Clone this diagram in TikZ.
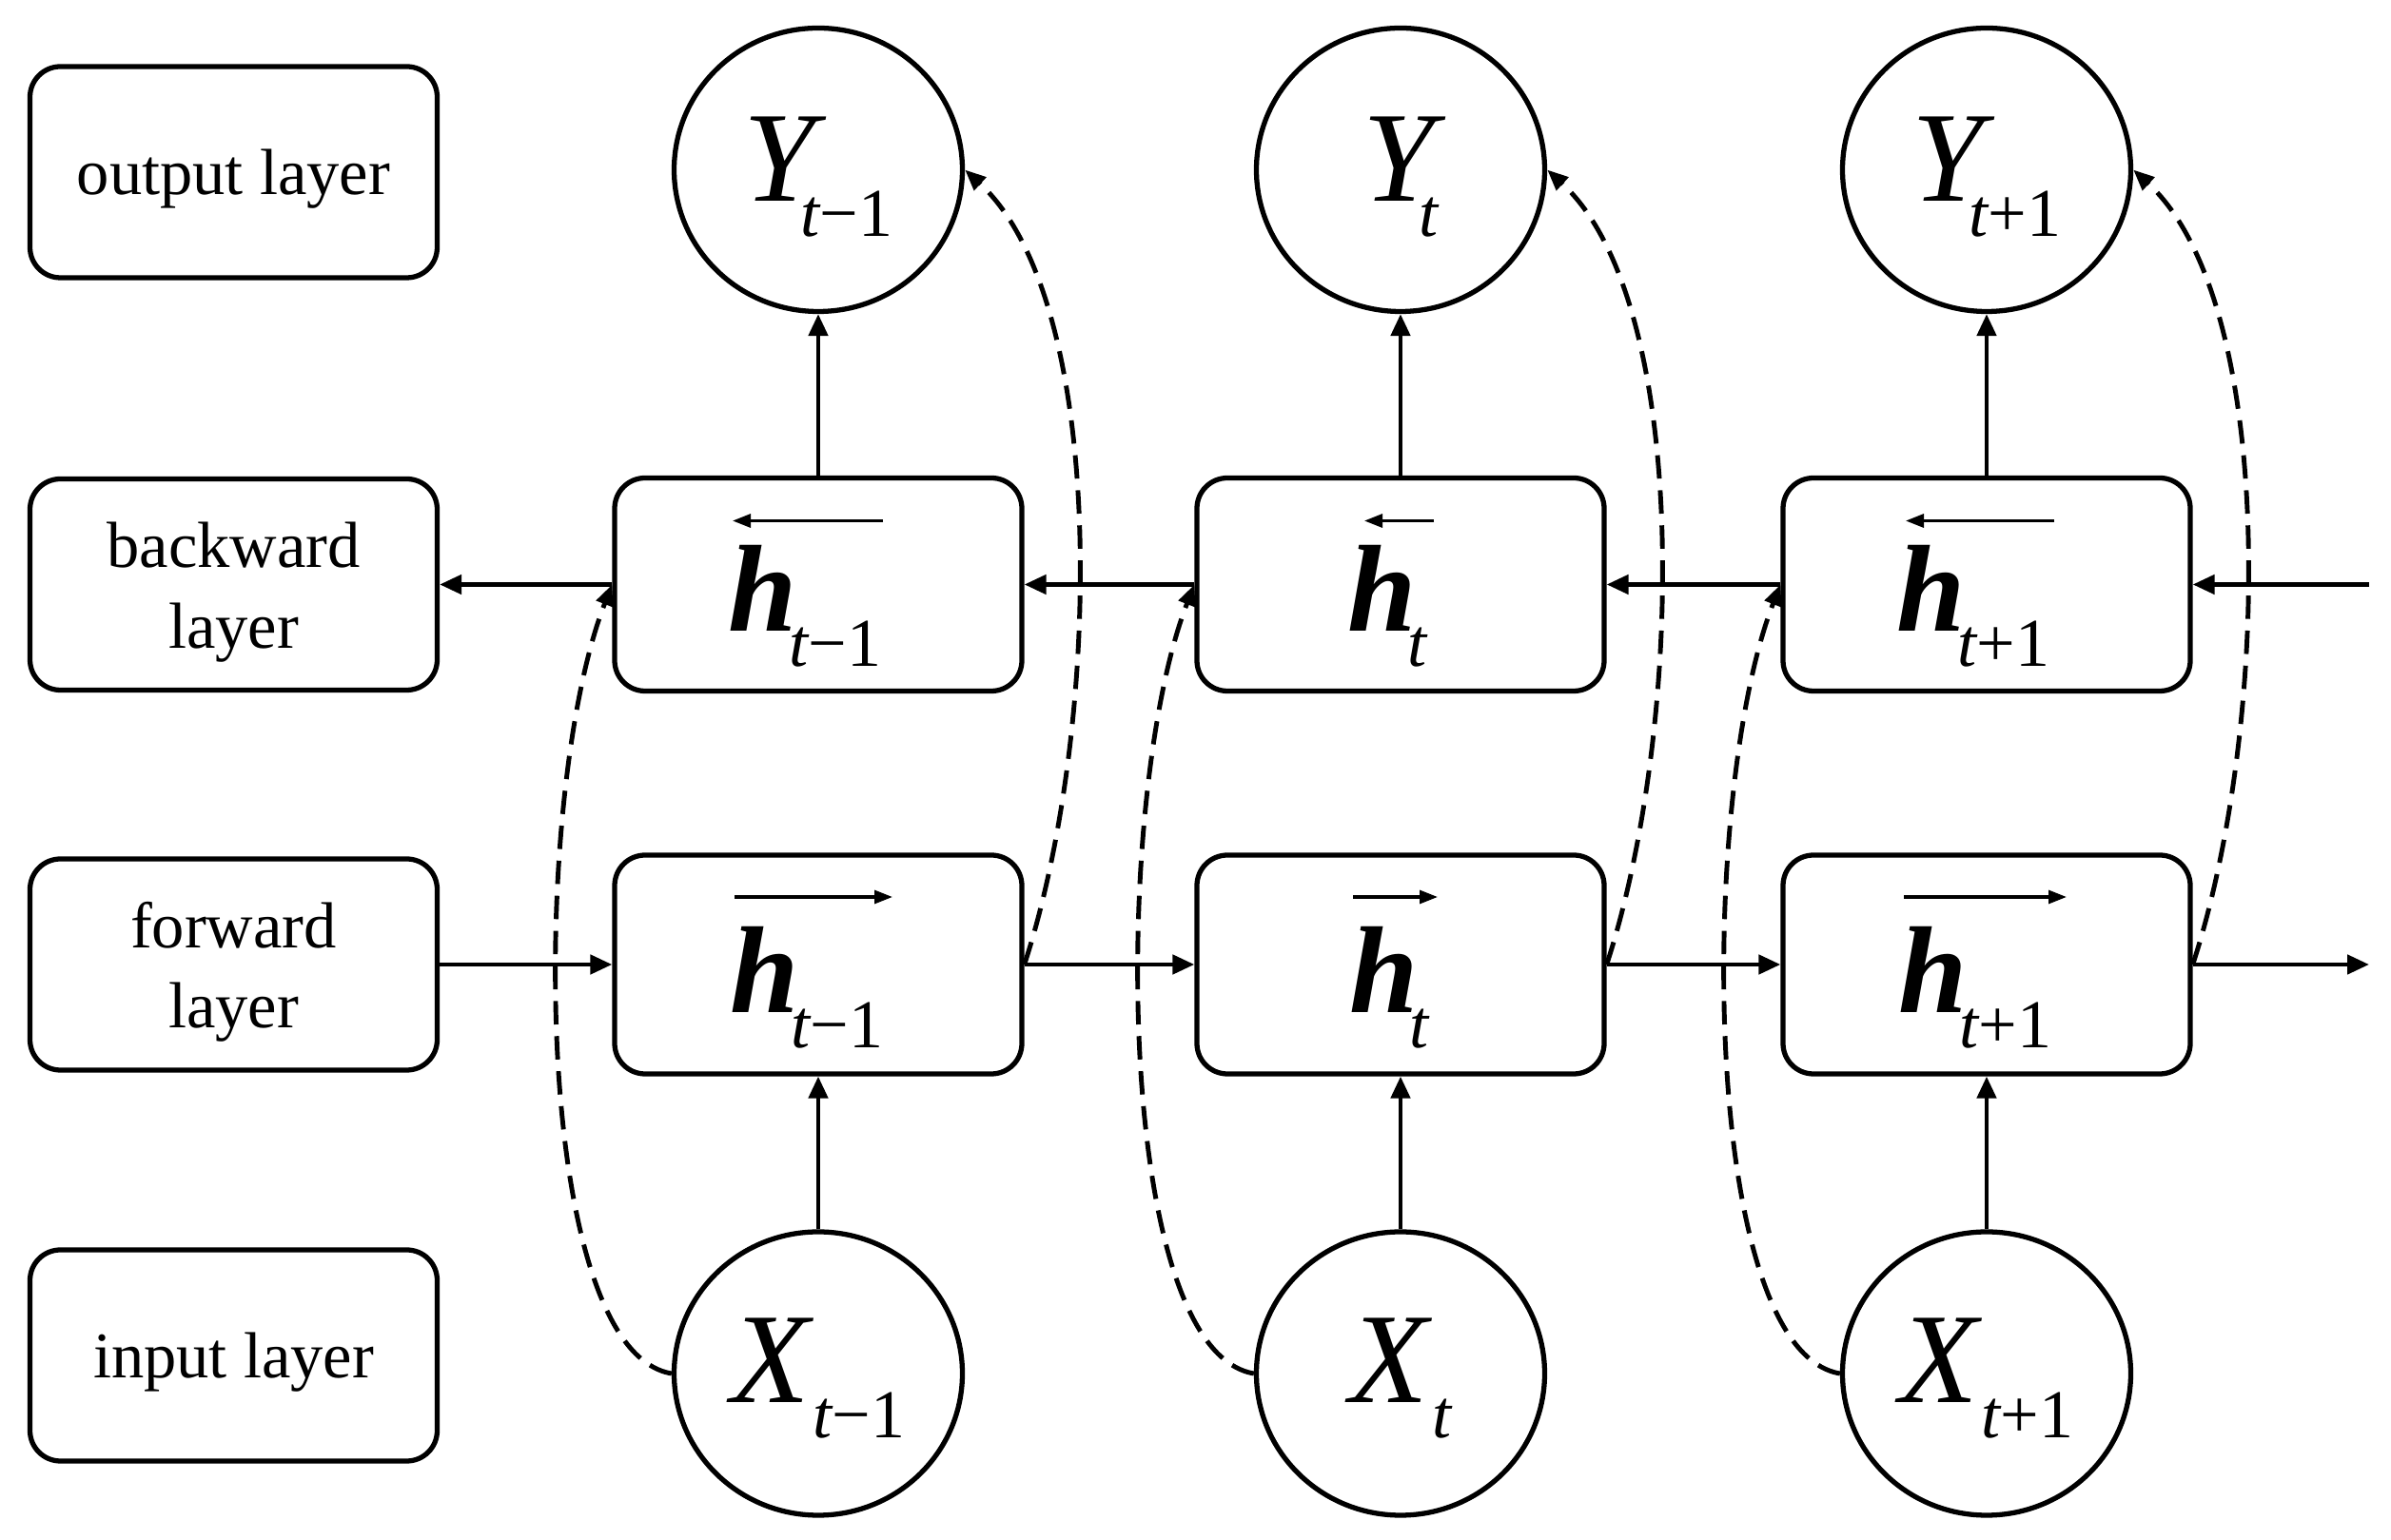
\documentclass[tikz,border=0pt]{standalone}
\usepackage{fontspec}
\setmainfont{Liberation Serif}
\usetikzlibrary{arrows.meta,shapes.geometric}
\newcommand{\subtx}[1]{\raisebox{-10.5pt}{\fontsize{20.5}{20.5}\selectfont\itshape t\upshape #1}}
\newcommand{\hsym}[1]{{\bfseries\itshape h}\kern-2.5pt\subtx{#1}}
\newcommand{\ysym}[1]{{\itshape Y}\kern-4.5pt\subtx{#1}}
\newcommand{\xsym}[1]{{\itshape X}\kern1pt\subtx{#1}}
\tikzset{
  lab/.style={draw, line width=1.5pt, rounded corners=0.32cm, minimum width=4.28cm, minimum height=2.22cm},
  labt/.style={inner sep=0pt, align=center, font=\fontsize{19.5}{24}\selectfont},
  hb/.style={draw, line width=1.5pt, rounded corners=0.32cm, minimum width=4.28cm, minimum height=2.24cm},
  hf/.style={draw, line width=1.5pt, rounded corners=0.32cm, minimum width=4.28cm, minimum height=2.30cm},
  ell/.style={draw, ellipse, line width=1.5pt, minimum width=3.03cm, minimum height=2.98cm, inner sep=0pt},
  symh/.style={inner sep=0pt, font=\fontsize{37}{37}\selectfont},
  symyx/.style={inner sep=0pt, font=\fontsize{38.5}{38.5}\selectfont},
  conn/.style={line width=1.35pt, -{Triangle[length=0.23cm,width=0.2cm]}},
  dconn/.style={line width=1.4pt, dash pattern=on 7pt off 3.5pt, -{Triangle[length=0.22cm,width=0.18cm]}},
  over/.style={line width=0.9pt, -{Triangle[length=0.19cm,width=0.14cm]}},
}
\begin{document}
\begin{tikzpicture}[x=1cm,y=1cm]
\useasboundingbox (0,0) rectangle (25.13,16.19);
\fill[white] (0,0) rectangle (25.13,16.19);

% layer labels
\node[lab] (Lout) at (2.455,14.38) {};
\node[lab] (Lback) at (2.455,10.045) {};
\node[lab] (Lfwd) at (2.455,6.05) {};
\node[lab] (Lin) at (2.455,1.94) {};
\node[labt] (LoutT) at ([yshift=-0.07cm]Lout.center) {output layer};
\node[labt] (LbackT) at ([yshift=-0.08cm]Lback.center) {backward\\layer};
\node[labt] (LfwdT) at ([yshift=-0.08cm]Lfwd.center) {forward\\layer};
\node[labt] (LinT) at ([yshift=-0.07cm]Lin.center) {input layer};

% output ellipses
\node[ell] (Y1) at (8.60,14.405) {};
\node[ell] (Y2) at (14.72,14.405) {};
\node[ell] (Y3) at (20.88,14.405) {};
\node[symyx] (Y1t) at (8.60,14.33) {\ysym{−1}};
\node[symyx] (Y2t) at (14.72,14.33) {\ysym{}};
\node[symyx] (Y3t) at (20.88,14.33) {\ysym{+1}};

% backward boxes
\node[hb] (B1) at (8.60,10.045) {};
\node[hb] (B2) at (14.72,10.045) {};
\node[hb] (B3) at (20.88,10.045) {};
\node[symh] (B1t) at ([xshift=-0.14cm,yshift=-0.23cm]B1.center) {\hsym{−1}};
\node[symh] (B2t) at ([xshift=-0.14cm,yshift=-0.23cm]B2.center) {\hsym{}};
\node[symh] (B3t) at ([xshift=-0.14cm,yshift=-0.23cm]B3.center) {\hsym{+1}};
\draw[over] ([xshift=0.68cm,yshift=0.67cm]B1.center) -- ([xshift=-0.90cm,yshift=0.67cm]B1.center);
\draw[over] ([xshift=0.35cm,yshift=0.67cm]B2.center) -- ([xshift=-0.38cm,yshift=0.67cm]B2.center);
\draw[over] ([xshift=0.71cm,yshift=0.67cm]B3.center) -- ([xshift=-0.85cm,yshift=0.67cm]B3.center);

% forward boxes
\node[hf] (F1) at (8.60,6.05) {};
\node[hf] (F2) at (14.72,6.05) {};
\node[hf] (F3) at (20.88,6.05) {};
\node[symh] (F1t) at ([xshift=-0.12cm,yshift=-0.245cm]F1.center) {\hsym{−1}};
\node[symh] (F2t) at ([xshift=-0.12cm,yshift=-0.245cm]F2.center) {\hsym{}};
\node[symh] (F3t) at ([xshift=-0.12cm,yshift=-0.245cm]F3.center) {\hsym{+1}};
\draw[over] ([xshift=-0.88cm,yshift=0.71cm]F1.center) -- ([xshift=0.78cm,yshift=0.71cm]F1.center);
\draw[over] ([xshift=-0.50cm,yshift=0.71cm]F2.center) -- ([xshift=0.39cm,yshift=0.71cm]F2.center);
\draw[over] ([xshift=-0.87cm,yshift=0.71cm]F3.center) -- ([xshift=0.84cm,yshift=0.71cm]F3.center);

% input ellipses
\node[ell] (X1) at (8.60,1.75) {};
\node[ell] (X2) at (14.72,1.75) {};
\node[ell] (X3) at (20.88,1.75) {};
\node[symyx] (X1t) at (8.60,1.695) {\xsym{−1}};
\node[symyx] (X2t) at (14.72,1.695) {\xsym{}};
\node[symyx] (X3t) at (20.88,1.695) {\xsym{+1}};

% free ends
\coordinate (Bend) at (24.90,10.045);
\coordinate (Fend) at (24.90,6.05);

% backward chain
\draw[conn] (B1.west) -- (Lback.east);
\draw[conn] (B2.west) -- (B1.east);
\draw[conn] (B3.west) -- (B2.east);
\draw[conn] (Bend) -- (B3.east);

% forward chain
\draw[conn] (Lfwd.east) -- (F1.west);
\draw[conn] (F1.east) -- (F2.west);
\draw[conn] (F2.east) -- (F3.west);
\draw[conn] (F3.east) -- (Fend);

% vertical connectors
\foreach \i in {1,2,3} {
  \draw[conn] (X\i.north) -- (F\i.south);
  \draw[conn] (B\i.north) -- (Y\i.south);
}

% dashed connectors
\foreach \i in {1,2,3} {
  \draw[dconn] (X\i.west) .. controls +(-1.485,0.25) and +(-0.86,-2.2) .. (B\i.west);
  \draw[dconn] (F\i.east) .. controls +(0.8,2.44) and +(1.535,-1.41) .. (Y\i.east);
}
\end{tikzpicture}
\end{document}
